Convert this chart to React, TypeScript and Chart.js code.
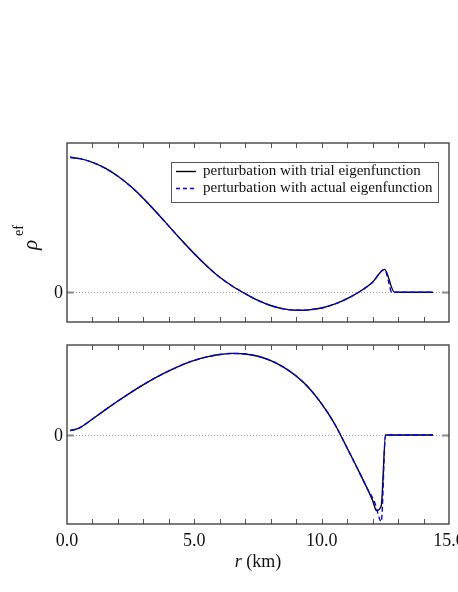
import React, { useEffect, useRef } from 'react';
import { Chart, registerables } from 'chart.js';

Chart.register(...registerables);

// ---- data ----
const rhoR = [0.12, 0.5, 1.0, 1.5, 2.0, 2.5, 3.0, 3.5, 4.0, 4.5, 5.0, 5.5, 6.0, 6.5, 7.0, 7.5, 8.0, 8.5, 9.0, 9.5, 10.0, 10.5, 11.0, 11.5, 12.0, 12.47, 12.86, 13.5, 14.37];
const rhoTrial = [1.0, 0.99, 0.963, 0.92, 0.86, 0.785, 0.695, 0.595, 0.49, 0.385, 0.285, 0.193, 0.111, 0.045, -0.01, -0.06, -0.098, -0.123, -0.133, -0.13, -0.116, -0.088, -0.047, 0.006, 0.075, 0.17, 0, 0, 0];
const rhoActualR = [0.12, 0.5, 1.0, 1.5, 2.0, 2.5, 3.0, 3.5, 4.0, 4.5, 5.0, 5.5, 6.0, 6.5, 7.0, 7.5, 8.0, 8.5, 9.0, 9.5, 10.0, 10.5, 11.0, 11.5, 12.0, 12.47, 12.62, 12.75, 13.5, 14.37];
const rhoActual = [1.0, 0.99, 0.963, 0.92, 0.86, 0.785, 0.695, 0.595, 0.49, 0.385, 0.285, 0.193, 0.111, 0.045, -0.01, -0.06, -0.098, -0.123, -0.133, -0.13, -0.116, -0.088, -0.047, 0.006, 0.075, 0.17, 0.085, 0, 0, 0];

const vR = [0.12, 0.45, 1.0, 1.5, 2.0, 2.5, 3.0, 3.5, 4.0, 4.5, 5.0, 5.5, 6.0, 6.5, 7.0, 7.5, 8.0, 8.5, 9.0, 9.5, 10.0, 10.5, 11.0, 11.5, 12.0, 12.15, 12.34, 12.51, 13.5, 14.37];
const vTrial = [0.053, 0.08, 0.195, 0.307, 0.415, 0.518, 0.615, 0.704, 0.783, 0.855, 0.912, 0.955, 0.983, 0.997, 0.99, 0.962, 0.91, 0.83, 0.72, 0.575, 0.38, 0.14, -0.16, -0.47, -0.8, -0.925, -0.865, 0, 0, 0];
const vActualR = [0.12, 0.45, 1.0, 1.5, 2.0, 2.5, 3.0, 3.5, 4.0, 4.5, 5.0, 5.5, 6.0, 6.5, 7.0, 7.5, 8.0, 8.5, 9.0, 9.5, 10.0, 10.5, 11.0, 11.5, 11.85, 11.95, 12.1, 12.34, 12.51, 13.5, 14.37];
const vActual = [0.053, 0.08, 0.195, 0.307, 0.415, 0.518, 0.615, 0.704, 0.783, 0.855, 0.912, 0.955, 0.983, 0.997, 0.99, 0.962, 0.91, 0.83, 0.72, 0.575, 0.38, 0.14, -0.16, -0.47, -0.69, -0.74, -0.84, -1.06, 0, 0, 0];

const xMinorTicks = [1, 2, 3, 4, 5, 6, 7, 8, 9, 10, 11, 12, 13, 14];
const xTickValues = [0, 5, 10, 15];
const xTickLabels = ['0.0', '5.0', '10.0', '15.0'];
const yTickValues = [0];
const yTickLabels = ['0'];
const seriesLabels = ['perturbation with trial eigenfunction', 'perturbation with actual eigenfunction'];
const xTitle = ['r', ' (km)'];

const SERIF = '"Liberation Serif", "DejaVu Serif", serif';

const zip = (xs: number[], ys: number[]) => xs.map((x, i) => ({ x, y: ys[i] }));

function makeDecor(panel: 'top' | 'bottom') {
  return {
    id: 'decor_' + panel,
    beforeDatasetsDraw(chart: any) {
      const { ctx, chartArea: a, scales } = chart;
      const y0 = Math.round(scales.y.getPixelForValue(0)) + 0.5;
      ctx.save();
      ctx.strokeStyle = '#9a9a9a';
      ctx.lineWidth = 1;
      ctx.setLineDash([1, 2]);
      ctx.beginPath();
      ctx.moveTo(a.left, y0);
      ctx.lineTo(a.right, y0);
      ctx.stroke();
      ctx.restore();
    },
    afterDraw(chart: any) {
      const { ctx, chartArea: a, scales } = chart;
      const x = scales.x;
      const y = scales.y;
      ctx.save();
      // ticks on x (inside, top and bottom)
      ctx.strokeStyle = '#555';
      ctx.lineWidth = 1;
      ctx.setLineDash([]);
      xMinorTicks.forEach((v) => {
        const px = Math.round(x.getPixelForValue(v)) + 0.5;
        ctx.beginPath();
        ctx.moveTo(px, a.top);
        ctx.lineTo(px, a.top + 5);
        ctx.moveTo(px, a.bottom);
        ctx.lineTo(px, a.bottom - 5);
        ctx.stroke();
      });
      // y ticks at 0
      ctx.strokeStyle = '#8a8a8a';
      ctx.lineWidth = 2;
      yTickValues.forEach((v) => {
        const py = Math.round(y.getPixelForValue(v)) + 0.5;
        ctx.beginPath();
        ctx.moveTo(a.left, py);
        ctx.lineTo(a.left + 7, py);
        ctx.moveTo(a.right, py);
        ctx.lineTo(a.right - 7, py);
        ctx.stroke();
      });
      // frame
      ctx.strokeStyle = '#444';
      ctx.lineWidth = 1.4;
      ctx.strokeRect(a.left, a.top, a.right - a.left, a.bottom - a.top);
      // y tick labels
      ctx.fillStyle = '#111';
      ctx.font = '18px ' + SERIF;
      ctx.textAlign = 'right';
      ctx.textBaseline = 'middle';
      yTickValues.forEach((v, i) => {
        ctx.fillText(yTickLabels[i], a.left - 4, y.getPixelForValue(v) + 1);
      });

      if (panel === 'top') {
        // y label rho^ef
        ctx.save();
        ctx.translate(31, 245);
        ctx.rotate(-Math.PI / 2);
        ctx.textAlign = 'center';
        ctx.textBaseline = 'middle';
        ctx.font = 'italic 21px ' + SERIF;
        ctx.fillText('ρ', 0, 0);
        ctx.textAlign = 'left';
        ctx.font = '14px ' + SERIF;
        ctx.fillText('ef', 9, -12);
        ctx.restore();

        // legend
        const lx = a.right - 278;
        const ly = a.top + 19;
        const lw = 267;
        const lh = 40;
        ctx.fillStyle = '#fff';
        ctx.fillRect(lx, ly, lw, lh);
        ctx.strokeStyle = '#555';
        ctx.lineWidth = 1;
        ctx.strokeRect(lx + 0.5, ly + 0.5, lw, lh);
        const rows = [ly + 9.5, ly + 26.5];
        ctx.lineWidth = 1.4;
        ctx.strokeStyle = '#000';
        ctx.beginPath();
        ctx.moveTo(lx + 5, rows[0]);
        ctx.lineTo(lx + 25, rows[0]);
        ctx.stroke();
        ctx.strokeStyle = '#0000ff';
        ctx.setLineDash([4, 3]);
        ctx.beginPath();
        ctx.moveTo(lx + 5, rows[1]);
        ctx.lineTo(lx + 25, rows[1]);
        ctx.stroke();
        ctx.setLineDash([]);
        ctx.fillStyle = '#111';
        ctx.font = '15px ' + SERIF;
        ctx.textAlign = 'left';
        ctx.textBaseline = 'middle';
        ctx.fillText(seriesLabels[0], lx + 32, rows[0]);
        ctx.fillText(seriesLabels[1], lx + 32, rows[1]);
      } else {
        // y label v_r^ef
        ctx.save();
        ctx.translate(29, 439);
        ctx.rotate(-Math.PI / 2);
        ctx.textAlign = 'center';
        ctx.textBaseline = 'middle';
        ctx.font = 'italic 19px ' + SERIF;
        ctx.fillStyle = '#111';
        ctx.fillText('v', 0, -1);
        ctx.textAlign = 'left';
        ctx.font = 'italic 13px ' + SERIF;
        ctx.fillText('r', 3, 5);
        ctx.font = '14px ' + SERIF;
        ctx.fillText('ef', 5, -11);
        ctx.restore();

        // x tick labels
        ctx.font = '18px ' + SERIF;
        ctx.textAlign = 'center';
        ctx.textBaseline = 'middle';
        xTickValues.forEach((v, i) => {
          ctx.fillText(xTickLabels[i], x.getPixelForValue(v), a.bottom + 17);
        });
        // x title
        ctx.font = 'italic 18px ' + SERIF;
        const w1 = ctx.measureText(xTitle[0]).width;
        ctx.font = '18px ' + SERIF;
        const w2 = ctx.measureText(xTitle[1]).width;
        const cx = (a.left + a.right) / 2 - (w1 + w2) / 2;
        ctx.textAlign = 'left';
        ctx.font = 'italic 18px ' + SERIF;
        ctx.fillText(xTitle[0], cx, a.bottom + 38);
        ctx.font = '18px ' + SERIF;
        ctx.fillText(xTitle[1], cx + w1, a.bottom + 38);
      }
      ctx.restore();
    },
  };
}

function makeChart(
  canvas: HTMLCanvasElement,
  panel: 'top' | 'bottom',
  trial: { x: number; y: number }[],
  actual: { x: number; y: number }[],
  yMin: number,
  yMax: number,
  padding: { left: number; right: number; top: number; bottom: number }
) {
  return new Chart(canvas, {
    type: 'line',
    data: {
      datasets: [
        {
          label: seriesLabels[0],
          data: trial,
          borderColor: '#000',
          borderWidth: 1.4,
          pointRadius: 0,
          fill: false,
          cubicInterpolationMode: 'monotone',
          order: 1,
        },
        {
          label: seriesLabels[1],
          data: actual,
          borderColor: '#0000ff',
          borderWidth: 1.4,
          borderDash: [5, 3],
          pointRadius: 0,
          fill: false,
          cubicInterpolationMode: 'monotone',
          order: 0,
        },
      ],
    },
    options: {
      animation: false,
      responsive: false,
      devicePixelRatio: 1,
      layout: { padding },
      scales: {
        x: { type: 'linear', min: 0, max: 15, display: false },
        y: { type: 'linear', min: yMin, max: yMax, display: false },
      },
      plugins: { legend: { display: false }, tooltip: { enabled: false } },
    },
    plugins: [makeDecor(panel)],
  } as any);
}

export default function App() {
  const topRef = useRef<HTMLCanvasElement>(null);
  const botRef = useRef<HTMLCanvasElement>(null);

  useEffect(() => {
    const c1 = makeChart(
      topRef.current!,
      'top',
      zip(rhoR, rhoTrial),
      zip(rhoActualR, rhoActual),
      -0.22,
      1.106,
      { left: 67, right: 9, top: 143, bottom: 8 }
    );
    const c2 = makeChart(
      botRef.current!,
      'bottom',
      zip(vR, vTrial),
      zip(vActualR, vActual),
      -1.089,
      1.1,
      { left: 67, right: 9, top: 15, bottom: 68 }
    );
    return () => {
      c1.destroy();
      c2.destroy();
    };
  }, []);

  return (
    <div style={{ position: 'absolute', left: 0, top: 0, width: 458, height: 592, background: '#fff', overflow: 'hidden' }}>
      <canvas ref={topRef} width={458} height={330} style={{ position: 'absolute', left: 0, top: 0, width: 458, height: 330 }} />
      <canvas ref={botRef} width={458} height={262} style={{ position: 'absolute', left: 0, top: 330, width: 458, height: 262 }} />
    </div>
  );
}
